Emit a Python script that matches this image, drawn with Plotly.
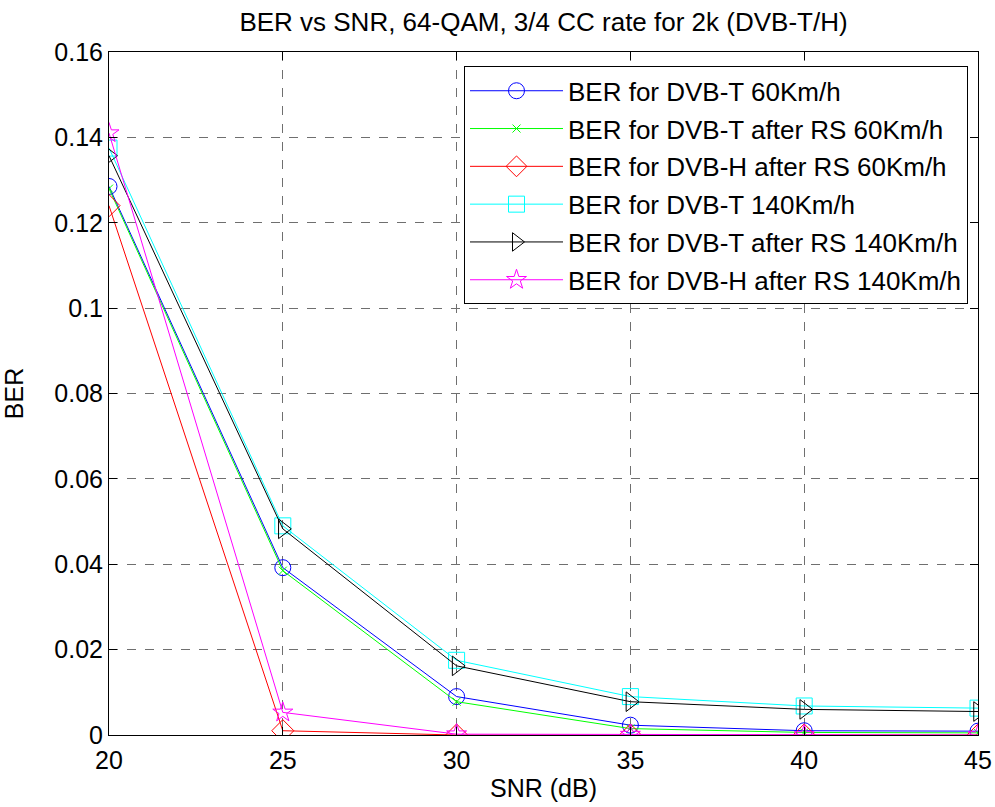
import plotly.graph_objects as go

snr = [20, 25, 30, 35, 40, 45]
ber_t_60 = [0.1285, 0.0392, 0.0090, 0.0023, 0.0010, 0.0009]
ber_t_rs_60 = [0.1280, 0.0385, 0.0078, 0.0015, 0.0006, 0.0005]
ber_h_rs_60 = [0.1240, 0.0010, 0.0000, 0.0000, 0.0000, 0.0000]
ber_t_140 = [0.1375, 0.0490, 0.0175, 0.0090, 0.0068, 0.0063]
ber_t_rs_140 = [0.1357, 0.0483, 0.0162, 0.0078, 0.0060, 0.0055]
ber_h_rs_140 = [0.1410, 0.0053, 0.0002, 0.0001, 0.0000, 0.0000]

names = [
    "BER for DVB-T 60Km/h",
    "BER for DVB-T after RS 60Km/h",
    "BER for DVB-H after RS 60Km/h",
    "BER for DVB-T 140Km/h",
    "BER for DVB-T after RS 140Km/h",
    "BER for DVB-H after RS 140Km/h",
]
series = [ber_t_60, ber_t_rs_60, ber_h_rs_60, ber_t_140, ber_t_rs_140, ber_h_rs_140]
colors = ["#0000ff", "#00ff00", "#ff0000", "#00ffff", "#000000", "#ff00ff"]
symbols = ["circle-open", "x-thin-open", "diamond-open", "square-open", "triangle-right-open", "star-open"]
sizes = [16, 8, 17, 16, 17, 15]

FONT = "Arial, Liberation Sans, sans-serif"

fig = go.Figure()
for i, (nm, ys) in enumerate(zip(names, series)):
    fig.add_trace(go.Scatter(
        x=snr, y=ys, name=nm, mode="lines+markers",
        line=dict(color=colors[i], width=1),
        marker=dict(symbol=symbols[i], size=sizes[i], color=colors[i],
                    line=dict(color=colors[i], width=1)),
        legendgroup=str(i),
    ))

axis_common = dict(
    showline=True, linecolor="black", linewidth=1, mirror="ticks",
    ticks="inside", ticklen=8, tickcolor="black", tickwidth=1,
    showgrid=True, gridcolor="#6f6f6f", griddash="dash", gridwidth=1,
    zeroline=False, automargin=False, ticklabeloverflow="allow",
    tickfont=dict(family=FONT, size=25, color="black"),
)

fig.update_layout(
    width=995, height=807,
    paper_bgcolor="white", plot_bgcolor="white",
    margin=dict(l=109, r=17, t=52, b=72),
    title=dict(text="BER vs SNR, 64-QAM, 3/4 CC rate for 2k (DVB-T/H)",
               xref="paper", x=0.5, xanchor="center",
               yref="container", y=0.973, yanchor="middle",
               font=dict(family=FONT, size=26, color="black")),
    xaxis=dict(range=[20, 45], tickvals=[20, 25, 30, 35, 40, 45],
               ticklabelstandoff=3,
               title=dict(text="SNR (dB)", font=dict(family=FONT, size=25, color="black"), standoff=6),
               **axis_common),
    yaxis=dict(range=[0, 0.16], tickvals=[0, 0.02, 0.04, 0.06, 0.08, 0.1, 0.12, 0.14, 0.16],
               ticktext=["0", "0.02", "0.04", "0.06", "0.08", "0.1", "0.12", "0.14", "0.16"],
               title=dict(text="BER", font=dict(family=FONT, size=25, color="black"), standoff=30),
               **axis_common),
    legend=dict(x=0.9885, xanchor="right", y=0.979, yanchor="top",
                bgcolor="white", bordercolor="black", borderwidth=1,
                font=dict(family=FONT, size=26, color="black"),
                tracegroupgap=1, itemwidth=93),
    showlegend=True,
)

fig.write_html("out.html", config={"displayModeBar": False},
               post_script="document.body.style.margin='0';")
